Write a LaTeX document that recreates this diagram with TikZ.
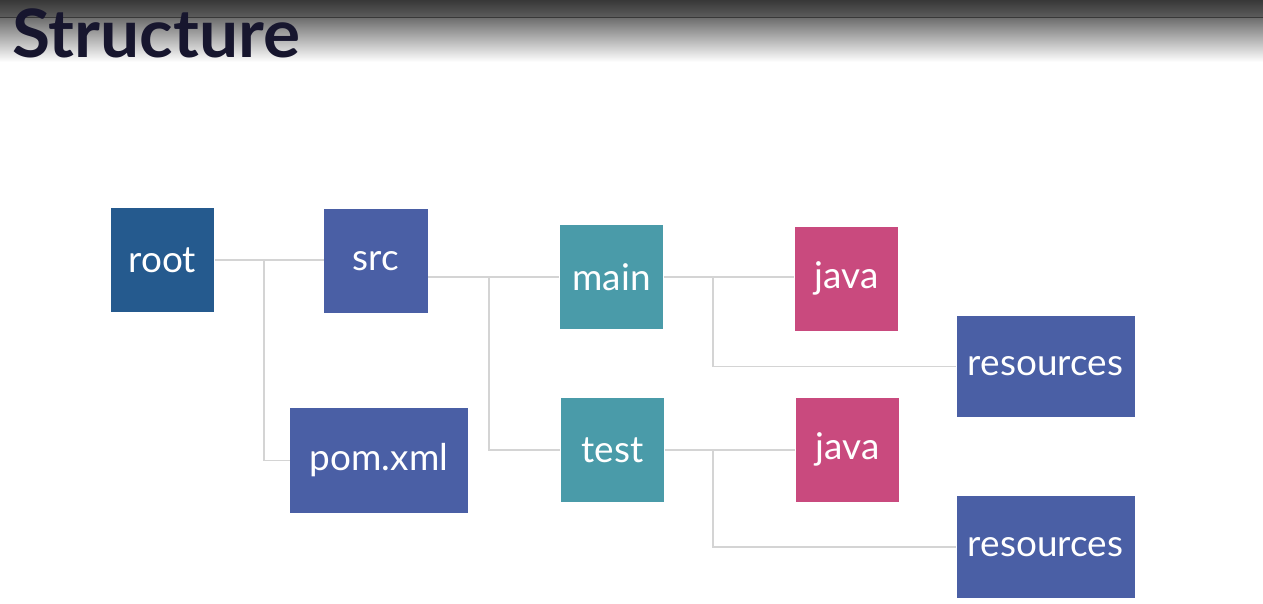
\documentclass[tikz,border=0pt]{standalone}
\usepackage{fontspec}
\setmainfont{Lato}
\usetikzlibrary{positioning}
\definecolor{rootblue}{HTML}{255A8E}
\definecolor{dirblue}{HTML}{4A5FA5}
\definecolor{dirteal}{HTML}{4A9BA9}
\definecolor{javapink}{HTML}{C94A7E}
\definecolor{linegray}{HTML}{D4D4D4}
\definecolor{titleink}{HTML}{17162E}
\definecolor{bandtop}{HTML}{383838}
\definecolor{bandlow}{HTML}{5C5C5C}
\definecolor{fadetop}{HTML}{6E6E6E}
\tikzset{
  folder/.style={text=white, inner sep=0pt, font=\fontsize{21}{25}\selectfont, minimum height=2.08cm},
  small/.style={folder, minimum width=2.07cm},
  wide/.style={folder, minimum width=3.56cm, minimum height=2.03cm},
  link/.style={draw=linegray, line width=1.1pt},
}

\begin{document}
\begin{tikzpicture}[x=0.02cm, y=0.02cm]
\useasboundingbox (0,0) rectangle (1263,-603);
%header
\fill[white] (0,0) rectangle (1263,-603);
\shade[top color=bandtop, bottom color=bandlow] (0,0) rectangle (1263,-17);
\shade[top color=fadetop, bottom color=white] (0,-18) rectangle (1263,-62);
\draw[color=bandtop, line width=0.6pt] (0,-17.5) -- (1263,-17.5);
\node[anchor=base west, text=titleink, font=\fontsize{38}{40}\selectfont\bfseries] (title) at (6,-57) {\scalebox{1.04}[1]{Structure}};
%folders
\node[small, fill=rootblue] (root) at (162.5,-260) {root};
\node[small, fill=dirblue] (src) at (376,-261) {src};
\node[wide, fill=dirblue, minimum height=2.1cm] (pom) at (379,-460.5) {pom.xml};
\node[small, fill=dirteal] (main) at (611.5,-277) {main};
\node[small, fill=dirteal] (test) at (612.5,-450) {test};
\node[small, fill=javapink] (java1) at (846.5,-278.5) {java};
\node[small, fill=javapink] (java2) at (847.5,-449.5) {java};
\node[wide, fill=dirblue] (res1) at (1045.5,-366.5) {resources};
\node[wide, fill=dirblue] (res2) at (1045.5,-547) {resources};
%forks
\coordinate (rootfork) at (264,-260);
\coordinate (srcfork) at (489,-277);
\coordinate (mainfork) at (713,-277);
\coordinate (testfork) at (713,-450);
%links
\draw[link] (root.east) -- (src.west |- root.east);
\draw[link] (rootfork) |- (pom.west);
\draw[link] (src.east |- main.west) -- (main.west);
\draw[link] (srcfork) |- (test.west);
\draw[link] (main.east) -- (java1.west |- main.east);
\draw[link] (mainfork) |- (res1.west);
\draw[link] (test.east) -- (java2.west |- test.east);
\draw[link] (testfork) |- (res2.west);
\end{tikzpicture}
\end{document}
